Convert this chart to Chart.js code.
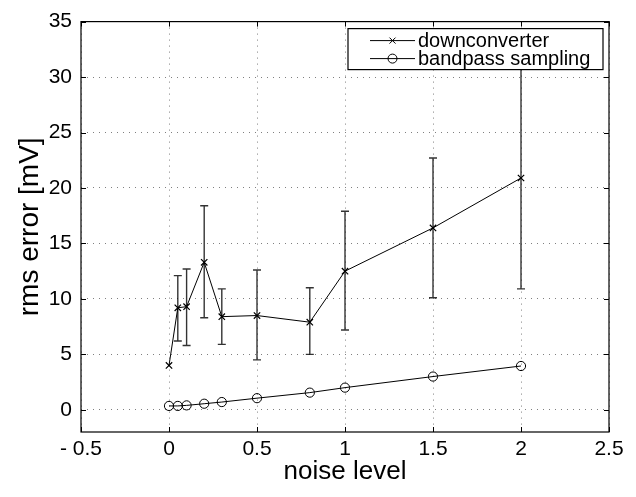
<!DOCTYPE html>
<html>
<head>
<meta charset="utf-8">
<script src="https://cdn.jsdelivr.net/npm/chart.js@4.4.1/dist/chart.umd.min.js"></script>
<style>
  html, body { margin: 0; padding: 0; background: #fff; }
  #wrap { width: 636px; height: 497px; }
</style>
</head>
<body>
<div id="wrap"><canvas id="chart" width="636" height="497"></canvas></div>
<script>
// noise levels used for both series
const noiseLevels = [0, 0.05, 0.1, 0.2, 0.3, 0.5, 0.8, 1, 1.5, 2];

// downconverter: mean rms error and error bar ends (mV)
const downMean = [4.0, 9.2, 9.3, 13.3, 8.4, 8.5, 7.9, 12.5, 16.4, 20.9];
const downLow  = [4.0, 6.2, 5.8, 8.3, 5.9, 4.5, 5.0, 7.2, 10.1, 10.9];
const downHigh = [4.0, 12.1, 12.7, 18.4, 10.9, 12.6, 11.0, 17.9, 22.7, 30.9];

// bandpass sampling
const bandMean = [0.35, 0.35, 0.4, 0.55, 0.7, 1.05, 1.55, 2.0, 3.0, 3.95];

const seriesLabels = ['downconverter', 'bandpass sampling'];
const xTicks = [-0.5, 0, 0.5, 1, 1.5, 2, 2.5];
const yTicks = [0, 5, 10, 15, 20, 25, 30, 35];

const FONT = '"Liberation Sans", Arial, sans-serif';

function toPoints(xs, ys) {
    return xs.map((x, i) => ({ x: x, y: ys[i] }));
}

// error bars for the downconverter series, drawn through the scales
const errorBars = {
    id: 'errorBars',
    beforeDatasetsDraw(chart) {
        const { ctx, chartArea, scales } = chart;
        ctx.save();
        ctx.beginPath();
        ctx.rect(chartArea.left, chartArea.top, chartArea.right - chartArea.left, chartArea.bottom - chartArea.top);
        ctx.clip();
        ctx.strokeStyle = 'rgba(0,0,0,0.8)';
        ctx.lineWidth = 1.4;
        noiseLevels.forEach((x, i) => {
            if (downHigh[i] === downLow[i]) return;
            const px = scales.x.getPixelForValue(x);
            const top = scales.y.getPixelForValue(downHigh[i]);
            const bot = scales.y.getPixelForValue(downLow[i]);
            ctx.beginPath();
            ctx.moveTo(px, top);
            ctx.lineTo(px, bot);
            ctx.moveTo(px - 4, top);
            ctx.lineTo(px + 4, top);
            ctx.moveTo(px - 4, bot);
            ctx.lineTo(px + 4, bot);
            ctx.stroke();
        });
        ctx.restore();
    }
};

// box, inward ticks and the legend in the top right corner
const frameAndLegend = {
    id: 'frameAndLegend',
    afterDraw(chart) {
        const { ctx, chartArea: a, scales } = chart;
        ctx.save();
        ctx.strokeStyle = '#000';
        ctx.lineWidth = 1.2;
        ctx.strokeRect(a.left, a.top, a.right - a.left, a.bottom - a.top);

        ctx.lineWidth = 1;
        ctx.beginPath();
        xTicks.forEach((v) => {
            const px = Math.round(scales.x.getPixelForValue(v)) + 0.5;
            ctx.moveTo(px, a.bottom); ctx.lineTo(px, a.bottom - 5);
            ctx.moveTo(px, a.top); ctx.lineTo(px, a.top + 5);
        });
        yTicks.forEach((v) => {
            const py = Math.round(scales.y.getPixelForValue(v)) + 0.5;
            ctx.moveTo(a.left, py); ctx.lineTo(a.left + 5, py);
            ctx.moveTo(a.right, py); ctx.lineTo(a.right - 5, py);
        });
        ctx.stroke();

        // legend
        const lx = a.right - 261, ly = a.top + 7, lw = 255, lh = 41;
        ctx.fillStyle = '#fff';
        ctx.fillRect(lx, ly, lw, lh);
        ctx.lineWidth = 1.2;
        ctx.strokeRect(lx, ly, lw, lh);
        ctx.font = '20px ' + FONT;
        ctx.textBaseline = 'middle';
        ctx.textAlign = 'left';
        chart.data.datasets.forEach((ds, i) => {
            const y = ly + 12 + i * 18;
            ctx.strokeStyle = '#000';
            ctx.lineWidth = 1;
            ctx.beginPath();
            ctx.moveTo(lx + 22, y);
            ctx.lineTo(lx + 67, y);
            ctx.stroke();
            const cx = lx + 44.5;
            ctx.beginPath();
            if (ds.pointStyle === 'crossRot') {
                ctx.moveTo(cx - 3, y - 3); ctx.lineTo(cx + 3, y + 3);
                ctx.moveTo(cx - 3, y + 3); ctx.lineTo(cx + 3, y - 3);
            } else {
                ctx.arc(cx, y, 4.5, 0, Math.PI * 2);
            }
            ctx.stroke();
            ctx.fillStyle = '#000';
            ctx.fillText(ds.label, lx + 70, y + 1);
        });
        ctx.restore();
    }
};

new Chart(document.getElementById('chart'), {
    type: 'line',
    data: {
        datasets: [
            {
                label: seriesLabels[0],
                data: toPoints(noiseLevels, downMean),
                borderColor: '#000',
                borderWidth: 1,
                pointStyle: 'crossRot',
                pointRadius: 4.5,
                pointBorderColor: '#000',
                pointBorderWidth: 1.2,
                pointBackgroundColor: 'transparent',
                fill: false,
                tension: 0
            },
            {
                label: seriesLabels[1],
                data: toPoints(noiseLevels, bandMean),
                borderColor: '#000',
                borderWidth: 1,
                pointStyle: 'circle',
                pointRadius: 4.6,
                pointBorderColor: '#000',
                pointBorderWidth: 1,
                pointBackgroundColor: 'transparent',
                fill: false,
                tension: 0
            }
        ]
    },
    options: {
        responsive: false,
        animation: false,
        layout: { padding: { top: 16, right: 27, left: 0, bottom: 0 } },
        plugins: {
            legend: { display: false },
            tooltip: { enabled: false }
        },
        scales: {
            x: {
                type: 'linear',
                min: -0.5,
                max: 2.5,
                afterBuildTicks: (scale) => { scale.ticks = xTicks.map((v) => ({ value: v })); },
                afterFit: (scale) => { scale.height = 65; },
                ticks: {
                    color: '#000',
                    font: { family: FONT, size: 21 },
                    padding: 5,
                    maxRotation: 0,
                    callback: (v) => (v < 0 ? '- ' + Math.abs(v) : String(v))
                },
                grid: { color: 'rgba(0,0,0,0.5)', lineWidth: 1, drawTicks: false },
                border: { display: false, dash: [1, 5] },
                title: {
                    display: true,
                    text: 'noise level',
                    color: '#000',
                    font: { family: FONT, size: 26 },
                    padding: { top: 0, bottom: 10 }
                }
            },
            y: {
                type: 'linear',
                min: -2,
                max: 35,
                afterBuildTicks: (scale) => { scale.ticks = yTicks.map((v) => ({ value: v })); },
                afterFit: (scale) => { scale.width = 81; },
                ticks: {
                    color: '#000',
                    font: { family: FONT, size: 21 },
                    padding: 9
                },
                grid: { color: 'rgba(0,0,0,0.5)', lineWidth: 1, drawTicks: false },
                border: { display: false, dash: [1, 5] },
                title: {
                    display: true,
                    text: 'rms error [mV]',
                    color: '#000',
                    font: { family: FONT, size: 28 },
                    padding: { top: 13, bottom: 0 }
                }
            }
        }
    },
    plugins: [errorBars, frameAndLegend]
});
</script>
</body>
</html>
